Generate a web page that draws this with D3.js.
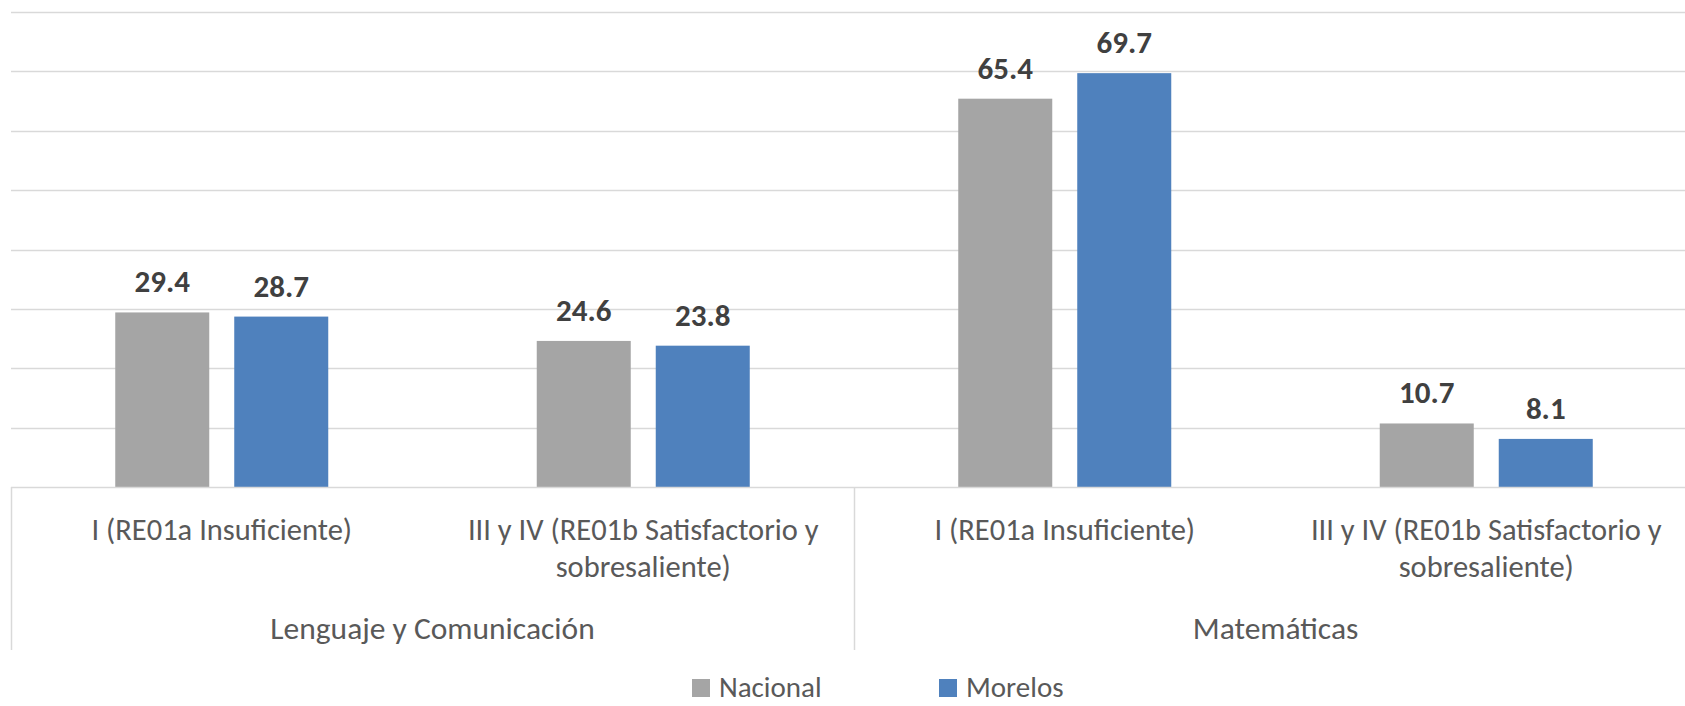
<!DOCTYPE html>
<html>
<head>
<meta charset="utf-8">
<script src="https://cdn.jsdelivr.net/npm/d3@7"></script>
<style>
  html, body { margin: 0; padding: 0; background: #fff; }
  svg { display: block; }
  text { font-family: Carlito, Calibri, Lato, "Open Sans", sans-serif; }
</style>
</head>
<body>
<svg id="chart" width="1685" height="706"></svg>
<script>
const categories = [
  "I (RE01a Insuficiente)",
  "III y IV (RE01b Satisfactorio y sobresaliente)",
  "I (RE01a Insuficiente)",
  "III y IV (RE01b Satisfactorio y sobresaliente)"
];
const groups = ["Lenguaje y Comunicación", "Matemáticas"];
const series = ["Nacional", "Morelos"];
const nacional = [29.4, 24.6, 65.4, 10.7];
const morelos = [28.7, 23.8, 69.7, 8.1];
const yTicks = [0, 10, 20, 30, 40, 50, 60, 70, 80];

const colors = { "Nacional": "#A5A5A5", "Morelos": "#4F81BD" };
const values = { "Nacional": nacional, "Morelos": morelos };

const svg = d3.select("#chart");
const W = 1685, H = 706;
const mLeft = 11, mRight = 1697, mTop = 12, mBottom = 487;

const y = d3.scaleLinear().domain([0, 80]).range([mBottom, mTop]);
const x0 = d3.scaleBand().domain(d3.range(categories.length)).range([mLeft, mRight]).paddingInner(0).paddingOuter(0);
const x1 = d3.scaleBand().domain(series).range([0, x0.bandwidth()]).paddingInner(0.21).paddingOuter(0.876);

// gridlines
svg.append("g").selectAll("line").data(yTicks.filter(d => d > 0)).join("line")
  .attr("x1", mLeft).attr("x2", W)
  .attr("y1", d => Math.round(y(d)) + 0.5).attr("y2", d => Math.round(y(d)) + 0.5)
  .attr("stroke", "#D9D9D9").attr("stroke-width", 1.5);

// bars
const cat = svg.append("g").selectAll("g").data(d3.range(categories.length)).join("g")
  .attr("transform", i => `translate(${x0(i)},0)`);

cat.selectAll("rect").data(i => series.map(s => ({ s, v: values[s][i] }))).join("rect")
  .attr("x", d => x1(d.s)).attr("width", x1.bandwidth())
  .attr("y", d => y(d.v)).attr("height", d => y(0) - y(d.v))
  .attr("fill", d => colors[d.s]);

cat.selectAll("text.val").data(i => series.map(s => ({ s, v: values[s][i] }))).join("text")
  .attr("class", "val")
  .attr("x", d => x1(d.s) + x1.bandwidth() / 2)
  .attr("y", d => y(d.v) - 20)
  .attr("text-anchor", "middle")
  .attr("font-size", 31).attr("font-weight", "bold")
  .attr("fill", "#404040")
  .text(d => d.v.toFixed(1));

// axis line
svg.append("line").attr("x1", mLeft).attr("x2", W).attr("y1", mBottom + 0.5).attr("y2", mBottom + 0.5)
  .attr("stroke", "#D9D9D9").attr("stroke-width", 1.5);

// group separators
const groupEdges = [0, 2, 4].map(i => i < categories.length ? x0(i) : mRight);
svg.append("g").selectAll("line").data(groupEdges).join("line")
  .attr("x1", d => Math.round(d) + 0.5).attr("x2", d => Math.round(d) + 0.5)
  .attr("y1", mBottom).attr("y2", 650)
  .attr("stroke", "#D9D9D9").attr("stroke-width", 1.5);

// category labels with wrapping
function wrap(textSel, width) {
  textSel.each(function () {
    const t = d3.select(this);
    const words = t.text().split(/\s+/);
    const xx = t.attr("x");
    t.text(null);
    let line = [];
    let tspan = t.append("tspan").attr("x", xx).attr("dy", 0);
    words.forEach(w => {
      line.push(w);
      tspan.text(line.join(" "));
      if (tspan.node().getComputedTextLength() > width && line.length > 1) {
        line.pop();
        tspan.text(line.join(" "));
        line = [w];
        tspan = t.append("tspan").attr("x", xx).attr("dy", 37).text(w);
      }
    });
  });
}

svg.append("g").selectAll("text").data(categories).join("text")
  .attr("x", (d, i) => x0(i) + x0.bandwidth() / 2)
  .attr("y", 540)
  .attr("text-anchor", "middle")
  .attr("font-size", 30.5)
  .attr("fill", "#595959")
  .text(d => d)
  .call(wrap, 405);

svg.append("g").selectAll("text").data(groups).join("text")
  .attr("x", (d, i) => x0(i * 2) + x0.bandwidth())
  .attr("y", 639)
  .attr("text-anchor", "middle")
  .attr("font-size", 31.5)
  .attr("fill", "#595959")
  .text(d => d);

// legend
const legendX = [692, 939];
const lg = svg.append("g").selectAll("g").data(series).join("g")
  .attr("transform", (d, i) => `translate(${legendX[i]},679)`);
lg.append("rect").attr("width", 18).attr("height", 18).attr("fill", d => colors[d]);
lg.append("text").attr("x", 27).attr("y", 18).attr("font-size", 29).attr("fill", "#595959").text(d => d);
</script>
</body>
</html>
